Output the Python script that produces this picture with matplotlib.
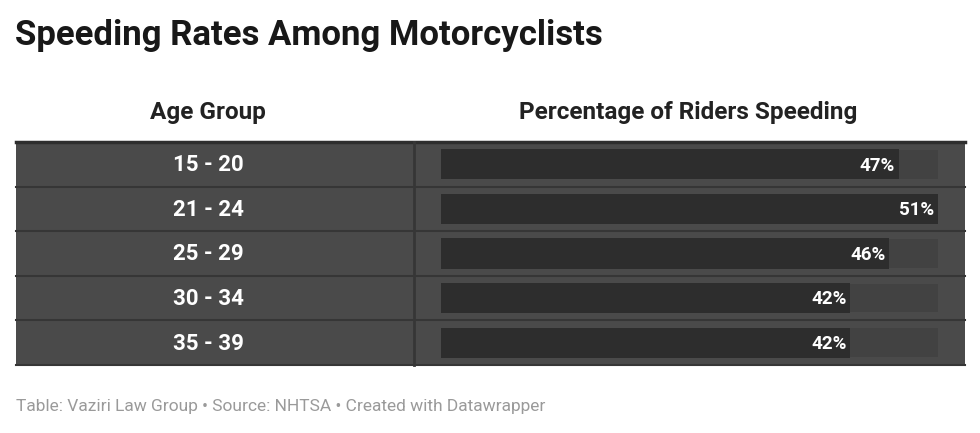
import matplotlib.pyplot as plt
from matplotlib.patches import Rectangle

age_groups = ["15 - 20", "21 - 24", "25 - 29", "30 - 34", "35 - 39"]
speeding_pct = [47, 51, 46, 42, 42]

W, H = 980, 433
fig = plt.figure(figsize=(9.8, 4.33), dpi=100)
fig.patch.set_facecolor("white")
plt.rcParams["font.family"] = ["Roboto", "DejaVu Sans"]

ax = fig.add_axes([0, 0, 1, 1])
ax.set_xlim(0, W)
ax.set_ylim(H, 0)
ax.axis("off")

ax.text(15, 36, "Speeding Rates Among Motorcyclists", fontsize=25, fontweight="bold",
        color="#181818", va="center")
ax.text(208, 113, "Age Group", fontsize=17.5, fontweight="bold", color="#222222",
        ha="center", va="center")
ax.text(688, 113, "Percentage of Riders Speeding", fontsize=17.5, fontweight="bold",
        color="#222222", ha="center", va="center")

top, row_h = 142, 44.6
ax.add_patch(Rectangle((16, top), 949, row_h * len(age_groups), color="#4a4a4a", lw=0))
ax.plot([16, 965], [top, top], color="#2e2e2e", lw=2.5)
for i, g in enumerate(age_groups):
    y0 = top + i * row_h
    if i > 0:
        ax.plot([16, 965], [y0, y0], color="#363636", lw=1.5)
    ax.text(208, y0 + row_h / 2 + 1, g, fontsize=16, fontweight="bold", color="white",
            ha="center", va="center")
    ax.add_patch(Rectangle((441, y0 + 8), 497, row_h - 16, color="#424242", lw=0))
ax.plot([16, 965], [top + row_h * 5, top + row_h * 5], color="#363636", lw=1.5)
ax.plot([414, 414], [top, top + row_h * 5], color="#363636", lw=2)

# bars axes: x 441..938 px, rows aligned with table
bx = fig.add_axes([441 / W, 1 - (top + row_h * 5) / H, 497 / W, row_h * 5 / H])
bx.set_xlim(0, 51)
bx.set_ylim(len(age_groups) - 0.5, -0.5)
bx.axis("off")
bx.barh(range(len(age_groups)), speeding_pct, height=0.68, color="#2d2d2d")
for i, v in enumerate(speeding_pct):
    bx.text(v - 0.4, i + 0.03, f"{v}%", fontsize=13.5, fontweight="bold", color="white",
            ha="right", va="center")

ax.text(16, 407, "Table: Vaziri Law Group • Source: NHTSA • Created with Datawrapper",
        fontsize=12.5, color="#9a9a9a", va="center")

fig.savefig("out.png", dpi=100)
